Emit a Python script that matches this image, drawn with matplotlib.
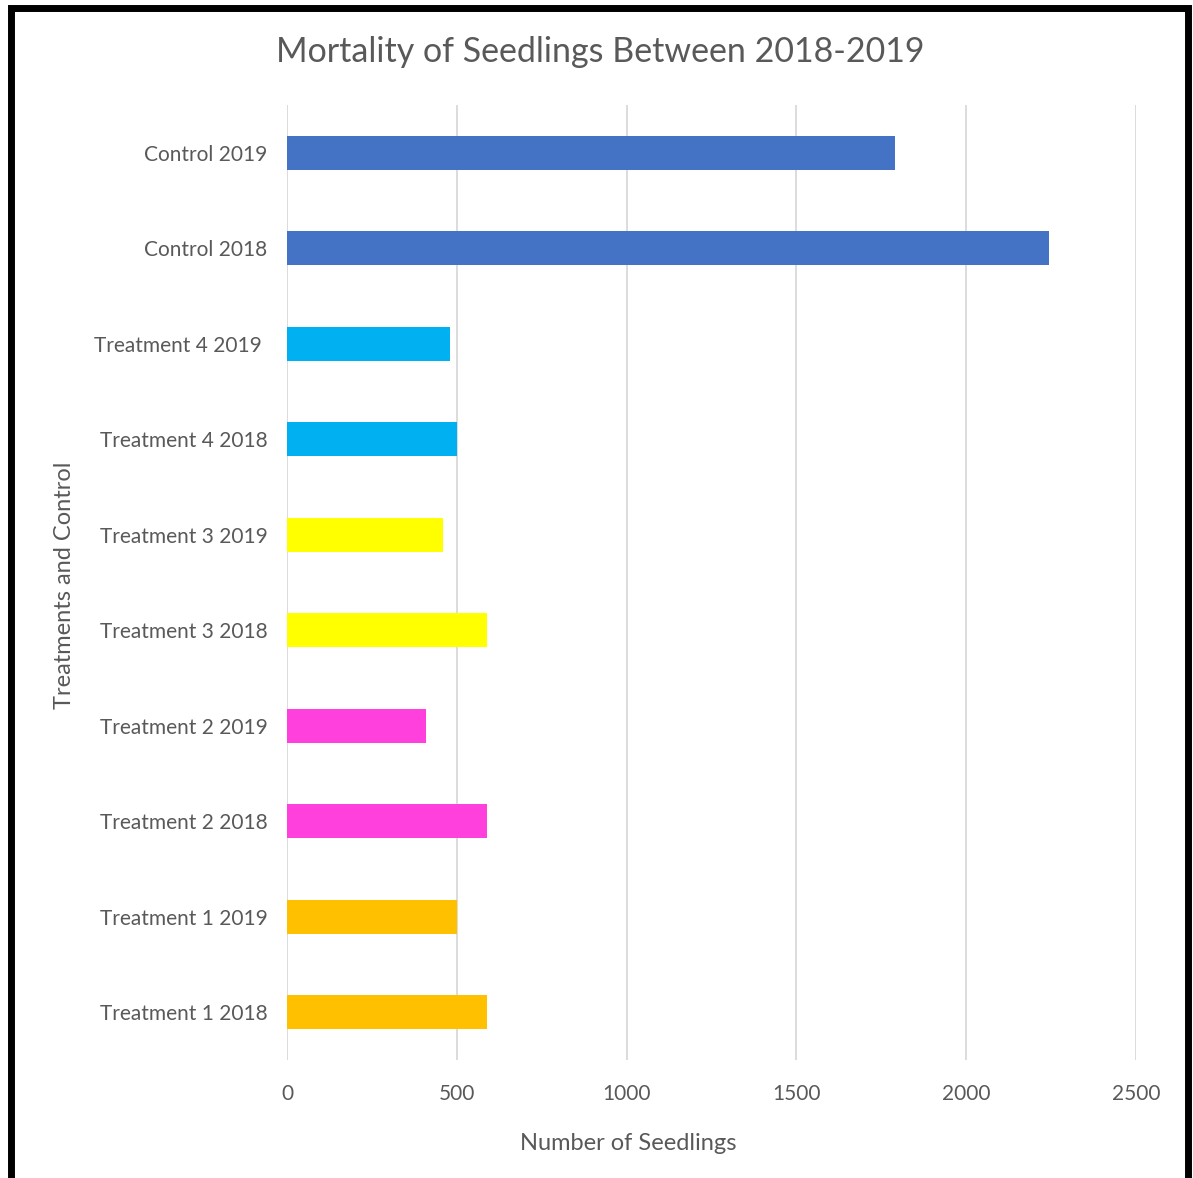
import matplotlib.pyplot as plt
from matplotlib.patches import Rectangle

# bottom to top
labels = ['Treatment 1 2018', 'Treatment 1 2019', 'Treatment 2 2018', 'Treatment 2 2019',
          'Treatment 3 2018', 'Treatment 3 2019', 'Treatment 4 2018', 'Treatment 4 2019 ',
          'Control 2018', 'Control 2019']
values = [590, 500, 590, 410, 590, 460, 500, 480, 2245, 1790]
colors = ['#FFC000', '#FFC000', '#FF40DD', '#FF40DD', '#FFFF00', '#FFFF00',
          '#00B0F0', '#00B0F0', '#4472C4', '#4472C4']

plt.rcParams['font.family'] = ['Lato', 'DejaVu Sans']
grey = '#595959'

fig = plt.figure(figsize=(11.93, 11.78), dpi=100)
ax = fig.add_axes([287 / 1193, 1 - 1060 / 1178, (1136 - 287) / 1193, (1060 - 105) / 1178])

ypos = list(range(len(labels)))
ax.barh(ypos, values, height=0.36, color=colors, zorder=3)
ax.set_xlim(0, 2500)
ax.set_ylim(-0.5, len(labels) - 0.5)
ax.set_xticks([0, 500, 1000, 1500, 2000, 2500])
ax.set_yticks(ypos)
ax.set_yticklabels(labels)
ax.grid(axis='x', color='#d9d9d9', linewidth=1.3, zorder=0)
for s in ax.spines.values():
    s.set_visible(False)
ax.tick_params(length=0, labelsize=15, colors=grey)
ax.tick_params(axis='x', pad=17)
ax.tick_params(axis='y', pad=14)

ax.set_xlabel('Number of Seedlings', fontsize=17, color=grey)
ax.xaxis.set_label_coords((628 - 287) / 849, (1060 - 1143) / 955)
ax.xaxis.label.set_va('center')
ax.set_ylabel('Treatments and Control', fontsize=17, color=grey)
ax.yaxis.set_label_coords((64 - 287) / 849, (1060 - 585) / 955)
ax.yaxis.label.set_va('center')
fig.text(600 / 1193, 1 - 52 / 1178, 'Mortality of Seedlings Between 2018-2019',
         ha='center', va='center', fontsize=24.5, color=grey)

# black frame around the chart
fig.patches.append(Rectangle((11 / 1193, -0.01), (1188 - 11) / 1193, 1 - 8 / 1178 + 0.01,
                             transform=fig.transFigure, fill=False, edgecolor='black',
                             linewidth=5))

fig.savefig('out.png', dpi=100)
